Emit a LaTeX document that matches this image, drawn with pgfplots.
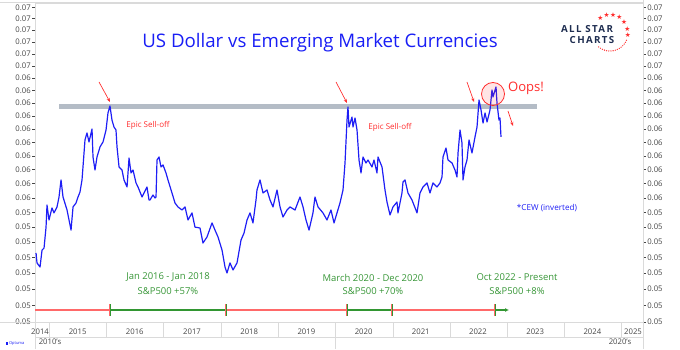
\documentclass[border=0pt]{standalone}
\usepackage{fontspec}
\setmainfont{Open Sans}
\newfontfamily\starfont{DejaVu Sans}
\usepackage{pgfplots}
\pgfplotsset{compat=1.18}
\usetikzlibrary{arrows.meta}
\definecolor{lineblue}{RGB}{30,30,245}
\definecolor{titleblue}{RGB}{25,30,245}
\definecolor{annred}{RGB}{255,45,45}
\definecolor{anngreen}{RGB}{55,150,55}
\definecolor{tlred}{RGB}{255,105,105}
\definecolor{tlgreen}{RGB}{50,150,50}
\definecolor{bandgrey}{RGB}{180,188,198}
\definecolor{bandedge}{RGB}{150,159,170}
\definecolor{navy}{RGB}{30,45,80}
\definecolor{ticktext}{RGB}{70,70,70}
\definecolor{framec}{RGB}{218,218,218}
\begin{document}
\begin{tikzpicture}
\begin{axis}[
  scale only axis, width=456pt, height=239.25pt,
  xmin=2014.755, xmax=2025.385,
  ymode=log, ymin=0.047, ymax=0.07038,
  ytick={0.047,0.048,0.049,0.050,0.051,0.052,0.053,0.054,0.055,0.056,0.057,0.058,0.059,0.060,0.061,0.062,0.063,0.064,0.065,0.066,0.067,0.068,0.069,0.070},
  yticklabels={0.05,0.05,0.05,0.05,0.05,0.05,0.05,0.05,0.06,0.06,0.06,0.06,0.06,0.06,0.06,0.06,0.06,0.06,0.07,0.07,0.07,0.07,0.07,0.07},
  tick align=outside, major tick length=2pt,
  ytick style={draw=ticktext, line width=0.4pt},
  yticklabel style={font=\fontsize{5.8}{6}\selectfont, text=ticktext, inner sep=1pt},
  xticklabel style={font=\fontsize{5.8}{6}\selectfont, text=ticktext},
  axis line style={draw=framec},
  clip=false,
  ytick pos=left,
  xtick={2014.843,2015.5,2016.5,2017.5,2018.5,2019.5,2020.5,2021.5,2022.5,2023.5,2024.5,2025.21},
  xticklabels={2014,2015,2016,2017,2018,2019,2020,2021,2022,2023,2024,2025},
  xtick style={draw=none},
]
% resistance band
\addplot[draw=bandedge, double=bandgrey, double distance=3.2pt, line width=0.4pt] coordinates {(2015.175,0.06174) (2023.531,0.06174)};
% CEW inverted
\addplot[lineblue, line width=0.9pt, line join=round] coordinates {
(2014.773,0.05129) (2014.790,0.05065) (2014.843,0.05039) (2014.878,0.05148) (2014.913,0.05161)
(2014.948,0.05300) (2014.965,0.05450) (2015.000,0.05348) (2015.052,0.05430) (2015.087,0.05396)
(2015.140,0.05437) (2015.175,0.05506) (2015.210,0.05626) (2015.245,0.05506) (2015.315,0.05416)
(2015.350,0.05348) (2015.385,0.05280) (2015.420,0.05437) (2015.472,0.05464) (2015.507,0.05506)
(2015.542,0.05541) (2015.577,0.05626) (2015.594,0.05719) (2015.629,0.05918) (2015.664,0.05971)
(2015.699,0.05903) (2015.752,0.06001) (2015.769,0.05792) (2015.804,0.05697) (2015.839,0.05792)
(2015.892,0.05866) (2015.944,0.05903) (2015.997,0.05993) (2016.031,0.06124) (2016.066,0.06178)
(2016.101,0.06069) (2016.136,0.06016) (2016.171,0.05993) (2016.189,0.05866) (2016.224,0.05719)
(2016.276,0.05697) (2016.311,0.05626) (2016.364,0.05576) (2016.399,0.05785) (2016.434,0.05676)
(2016.469,0.05697) (2016.521,0.05605) (2016.556,0.05576) (2016.626,0.05506) (2016.661,0.05534)
(2016.713,0.05576) (2016.748,0.05485) (2016.766,0.05485) (2016.818,0.05520) (2016.853,0.05499)
(2016.871,0.05506) (2016.888,0.05770) (2016.923,0.05792) (2016.958,0.05719) (2016.993,0.05734)
(2017.045,0.05676) (2017.080,0.05626) (2017.150,0.05534) (2017.203,0.05464) (2017.255,0.05437)
(2017.325,0.05416) (2017.378,0.05437) (2017.430,0.05348) (2017.500,0.05396) (2017.552,0.05300)
(2017.640,0.05294) (2017.692,0.05194) (2017.762,0.05234) (2017.850,0.05328) (2017.902,0.05280)
(2017.955,0.05234) (2018.025,0.05148) (2018.077,0.05039) (2018.112,0.05001) (2018.164,0.05065)
(2018.217,0.05020) (2018.287,0.05065) (2018.357,0.05214) (2018.409,0.05260) (2018.462,0.05348)
(2018.514,0.05396) (2018.566,0.05328) (2018.619,0.05485) (2018.636,0.05555) (2018.689,0.05626)
(2018.741,0.05534) (2018.811,0.05555) (2018.864,0.05485) (2018.916,0.05437) (2018.986,0.05555)
(2019.039,0.05437) (2019.091,0.05368) (2019.161,0.05416) (2019.213,0.05437) (2019.301,0.05416)
(2019.388,0.05506) (2019.441,0.05437) (2019.493,0.05348) (2019.546,0.05280) (2019.615,0.05396)
(2019.650,0.05506) (2019.703,0.05437) (2019.790,0.05396) (2019.860,0.05348) (2019.930,0.05416)
(2019.983,0.05328) (2020.035,0.05396) (2020.087,0.05464) (2020.140,0.05555) (2020.175,0.05748)
(2020.210,0.06069) (2020.227,0.06170) (2020.245,0.06016) (2020.297,0.06092) (2020.315,0.06016)
(2020.350,0.06085) (2020.385,0.05993) (2020.420,0.05770) (2020.455,0.05676) (2020.490,0.05792)
(2020.542,0.05748) (2020.577,0.05770) (2020.647,0.05719) (2020.682,0.05770) (2020.734,0.05676)
(2020.752,0.05792) (2020.822,0.05719) (2020.874,0.05555) (2020.909,0.05471) (2020.962,0.05382)
(2021.014,0.05437) (2021.084,0.05471) (2021.101,0.05396) (2021.171,0.05534) (2021.189,0.05612)
(2021.224,0.05626) (2021.276,0.05534) (2021.346,0.05485) (2021.434,0.05396) (2021.486,0.05534)
(2021.539,0.05576) (2021.608,0.05605) (2021.661,0.05534) (2021.713,0.05605) (2021.783,0.05576)
(2021.836,0.05605) (2021.871,0.05647) (2021.888,0.05792) (2021.941,0.05858) (2021.976,0.05770)
(2022.046,0.05748) (2022.098,0.05697) (2022.133,0.05647) (2022.151,0.05821) (2022.186,0.05993)
(2022.220,0.05896) (2022.238,0.05626) (2022.273,0.05719) (2022.308,0.05770) (2022.343,0.05918)
(2022.395,0.05821) (2022.448,0.05941) (2022.483,0.06016) (2022.518,0.06225) (2022.553,0.06147)
(2022.588,0.06046) (2022.623,0.06124) (2022.658,0.06054) (2022.710,0.06147) (2022.745,0.06305)
(2022.762,0.06249) (2022.815,0.06329) (2022.832,0.06202) (2022.867,0.06069) (2022.885,0.06085)
(2022.902,0.05941)
};
\end{axis}
\begin{axis}[
  scale only axis, width=456pt, height=239.25pt,
  xmin=2014.755, xmax=2025.385,
  ymode=log, ymin=0.047, ymax=0.07038,
  ytick={0.047,0.048,0.049,0.050,0.051,0.052,0.053,0.054,0.055,0.056,0.057,0.058,0.059,0.060,0.061,0.062,0.063,0.064,0.065,0.066,0.067,0.068,0.069,0.070},
  yticklabels={0.05,0.05,0.05,0.05,0.05,0.05,0.05,0.05,0.06,0.06,0.06,0.06,0.06,0.06,0.06,0.06,0.06,0.06,0.07,0.07,0.07,0.07,0.07,0.07},
  tick align=outside, major tick length=2pt,
  ytick style={draw=ticktext, line width=0.4pt},
  yticklabel style={font=\fontsize{5.8}{6}\selectfont, text=ticktext, inner sep=1pt},
  axis line style={draw=framec},
  ytick pos=right, yticklabel pos=right,
  xtick=\empty, axis x line=none, axis y line*=right,
]
\addplot[draw=none] coordinates {(2016,0.05) (2017,0.06)};
\end{axis}
% annotations in image-pixel coordinates
\begin{scope}[shift={(current axis.north west)}, xshift=-26.25pt, yshift=2.25pt, x=0.75pt, y=-0.75pt]
  % frame lines
  \draw[framec, line width=0.5pt] (0,2) -- (643,2);
  \draw[framec, line width=0.5pt] (0,322) -- (643,322);
  \draw[framec, line width=0.5pt] (35,337) -- (643,337);
  \draw[framec, line width=0.5pt] (35,322) -- (35,349);
  \draw[framec, line width=0.5pt] (643,0) -- (643,349);
  \foreach \px in {49,106,163,221,278,335,393,450,507,564,621} {
    \draw[framec, line width=0.5pt] (\px,322) -- (\px,337);
  }
  \draw[framec, line width=0.5pt] (335,337) -- (335,349);
  \node[font=\fontsize{5.8}{6}\selectfont, text=ticktext] at (50,342) {2010's};
  \node[font=\fontsize{5.8}{6}\selectfont, text=ticktext] at (620,342) {2020's};
  \node[font=\fontsize{3}{3}\selectfont, text=titleblue, anchor=west] at (1,344) {\rule{2pt}{2pt}\,Optuma};
  % title
  \node[font=\fontsize{14}{16}\selectfont, text=titleblue] at (320,43) {US Dollar vs Emerging Market Currencies};
  % logo
  \node[font=\fontsize{7.3}{8}\selectfont\bfseries\addfontfeature{LetterSpace=14}, text=navy] at (587,29) {ALL STAR};
  \node[font=\fontsize{7.3}{8}\selectfont\bfseries\addfontfeature{LetterSpace=14}, text=navy] at (592,40) {CHARTS};
  \foreach \a in {-122,-101,-80,-59,-38,-14,8} {
    \node[font=\starfont\fontsize{5}{5}\selectfont, text=annred, inner sep=0pt] at ({610+18*cos(\a)},{33+18*sin(\a)}) {★};
  }
  \foreach \a in {24,31,38,45,52,59,66,73,80,87,94,101,108,115,122,129} {
    \fill[annred] ({610+18*cos(\a)},{33+18*sin(\a)}) circle[radius=0.7];
  }
  % arrows
  \draw[annred, line width=0.5pt, -{Stealth[length=3pt,width=2.4pt]}] (99,82) -- (110,102);
  \draw[annred, line width=0.5pt, -{Stealth[length=3pt,width=2.4pt]}] (336,82) -- (347,103);
  \draw[annred, line width=0.5pt, -{Stealth[length=3pt,width=2.4pt]}] (467,82) -- (474,102);
  \draw[annred, line width=0.5pt, -{Stealth[length=3pt,width=2.4pt]}] (508,111) -- (513,126);
  % labels
  \node[font=\fontsize{6}{7}\selectfont, text=annred] at (148,125) {Epic Sell-off};
  \node[font=\fontsize{6}{7}\selectfont, text=annred] at (390,127) {Epic Sell-off};
  \fill[annred, opacity=0.12] (493,94) circle[radius=11.5];
  \draw[annred, line width=0.6pt] (493,94) circle[radius=11.5];
  \node[font=\fontsize{9.8}{11}\selectfont, text=annred] at (526,88) {Oops!};
  \node[font=\fontsize{6.1}{7}\selectfont, text=lineblue] at (547,208) {*CEW (inverted)};
  % periods
  \node[font=\fontsize{7.1}{8}\selectfont, text=anngreen] at (168,277) {Jan 2016 - Jan 2018};
  \node[font=\fontsize{7.1}{8}\selectfont, text=anngreen] at (168,291) {S\&P500 +57\%};
  \node[font=\fontsize{7.1}{8}\selectfont, text=anngreen] at (373,278) {March 2020 - Dec 2020};
  \node[font=\fontsize{7.1}{8}\selectfont, text=anngreen] at (373,291) {S\&P500 +70\%};
  \node[font=\fontsize{7.1}{8}\selectfont, text=anngreen] at (517,277) {Oct 2022 - Present};
  \node[font=\fontsize{7.1}{8}\selectfont, text=anngreen] at (517,291) {S\&P500 +8\%};
  % timeline
  \draw[tlred, line width=0.9pt] (35,310) -- (110,310);
  \draw[tlgreen, line width=0.9pt] (110,310) -- (226,310);
  \draw[tlred, line width=0.9pt] (226,310) -- (347,310);
  \draw[tlgreen, line width=0.9pt] (347,310) -- (392,310);
  \draw[tlred, line width=0.9pt] (392,310) -- (495,310);
  \draw[tlgreen, line width=0.9pt, -{Latex[length=3pt,width=3pt]}] (495,310) -- (509,310);
  \foreach \px in {110,226,347,392,495} {
    \draw[tlred, line width=2.2pt] (\px,304) -- (\px,316);
    \draw[tlgreen, line width=0.6pt] (\px,304) -- (\px,316);
  }
  \pgfresetboundingbox
  \path[use as bounding box] (0,0) rectangle (680,349);
\end{scope}
\end{tikzpicture}
\end{document}
